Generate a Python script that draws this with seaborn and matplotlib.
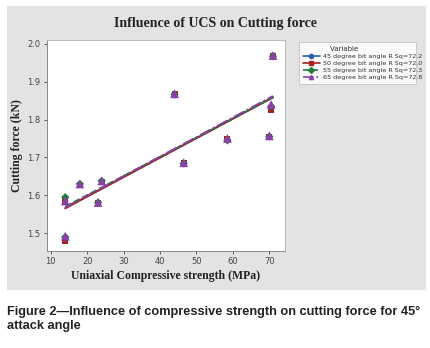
import numpy as np
import pandas as pd
import matplotlib
matplotlib.use('Agg')
import matplotlib.pyplot as plt
from matplotlib.lines import Line2D
from matplotlib.patches import Rectangle
import seaborn as sns

# UCS (MPa) and cutting force (kN) for each bit angle
ucs = [14, 14, 18, 23, 24, 44, 46.5, 58.5, 70, 70.5, 71]
force_45 = [1.585, 1.487, 1.627, 1.581, 1.636, 1.868, 1.686, 1.748, 1.755, 1.830, 1.969]
force_50 = [1.585, 1.480, 1.627, 1.581, 1.636, 1.868, 1.686, 1.748, 1.755, 1.825, 1.969]
force_55 = [1.595, 1.490, 1.630, 1.581, 1.638, 1.866, 1.684, 1.745, 1.755, 1.835, 1.967]
force_65 = [1.585, 1.492, 1.630, 1.581, 1.638, 1.868, 1.686, 1.750, 1.757, 1.840, 1.969]
labels = ['45 degree bit angle R Sq=72.2', '50 degree bit angle R Sq=72.0',
          '55 degree bit angle R Sq=72.3', '65 degree bit angle R Sq=72.8']

colors = ['#2f5fa6', '#a82222', '#1f7a3c', '#8a40a8']
markers = ['o', 's', 'D', '^']
styles = ['-', '-', '--', '-.']
sizes = [18, 18, 18, 40]

df = pd.DataFrame({'ucs': ucs * 4,
                   'force': force_45 + force_50 + force_55 + force_65,
                   'series': sum([[l] * len(ucs) for l in labels], [])})

sns.set_style('white')
fig = plt.figure(figsize=(4.3, 3.48), dpi=100)
fig.patch.set_facecolor('white')
# grey Minitab panel behind the axes
fig.add_artist(Rectangle((7 / 430, 1 - 290 / 348), 419 / 430, 284 / 348,
                         transform=fig.transFigure, facecolor='#e3e3e3',
                         edgecolor='none', zorder=-5))

ax = fig.add_axes([46.7 / 430, 1 - 251 / 348, (285 - 46.7) / 430, (251 - 40) / 348])
ax.set_facecolor('white')

handles = []
for lab, c, m, ls, sz in zip(labels, colors, markers, styles, sizes):
    sub = df[df['series'] == lab]
    sns.regplot(data=sub, x='ucs', y='force', ax=ax, ci=None,
                marker=m, color=c,
                scatter_kws={'s': sz, 'edgecolor': 'none', 'alpha': 1},
                line_kws={'lw': 1.3, 'ls': ls})
    handles.append(Line2D([], [], color=c, marker=m, ls=ls, lw=1.2, markersize=3))

ax.set_xlim(8.9, 74.3)
ax.set_ylim(1.453, 2.01)
ax.set_xticks(np.arange(10, 71, 10))
ax.set_yticks(np.arange(1.5, 2.01, 0.1))
ax.set_yticklabels(['%.1f' % v for v in np.arange(1.5, 2.01, 0.1)])
ax.tick_params(axis='both', labelsize=6, colors='#444444', length=2.5, width=0.6,
               direction='out', pad=2, bottom=True, left=True)
for s in ax.spines.values():
    s.set_color('#b8b8b8')
    s.set_linewidth(0.7)
ax.spines['left'].set_color('#888888')
ax.spines['bottom'].set_color('#888888')

ax.set_xlabel('Uniaxial Compressive strength (MPa)', family='Liberation Serif',
              fontweight='bold', fontsize=8.5, color='#222222', labelpad=3)
ax.set_ylabel('Cutting force (kN)', family='Liberation Serif',
              fontweight='bold', fontsize=8.5, color='#222222', labelpad=3)

fig.text(215 / 430, 1 - 23 / 348, 'Influence of UCS on Cutting force',
         family='Liberation Serif', fontweight='bold', fontsize=10,
         ha='center', va='center', color='#222222')

leg = fig.legend(handles, labels, title='Variable',
                 loc='upper left', bbox_to_anchor=(296 / 430, 1 - 93 / 348,
                                                   123 / 430, 54 / 348),
                 mode='expand', fontsize=4.6, title_fontsize=5,
                 frameon=True, fancybox=False, edgecolor='#b8b8b8',
                 handlelength=2.6, handletextpad=0.6, labelspacing=0.25,
                 borderpad=0.6, alignment='left')
leg.get_frame().set_linewidth(0.6)
leg.get_title().set_color('#333333')
leg.get_title().set_text('            Variable')
for t in leg.get_texts():
    t.set_color('#333333')

fig.text(7 / 430, 1 - 312 / 348,
         'Figure 2\u2014Influence of compressive strength on cutting force for 45\u00b0',
         family='Liberation Sans', fontweight='bold', fontsize=9.2,
         ha='left', va='center', color='#222222')
fig.text(7 / 430, 1 - 326 / 348, 'attack angle',
         family='Liberation Sans', fontweight='bold', fontsize=9.2,
         ha='left', va='center', color='#222222')

fig.savefig('out.png', dpi=100)
